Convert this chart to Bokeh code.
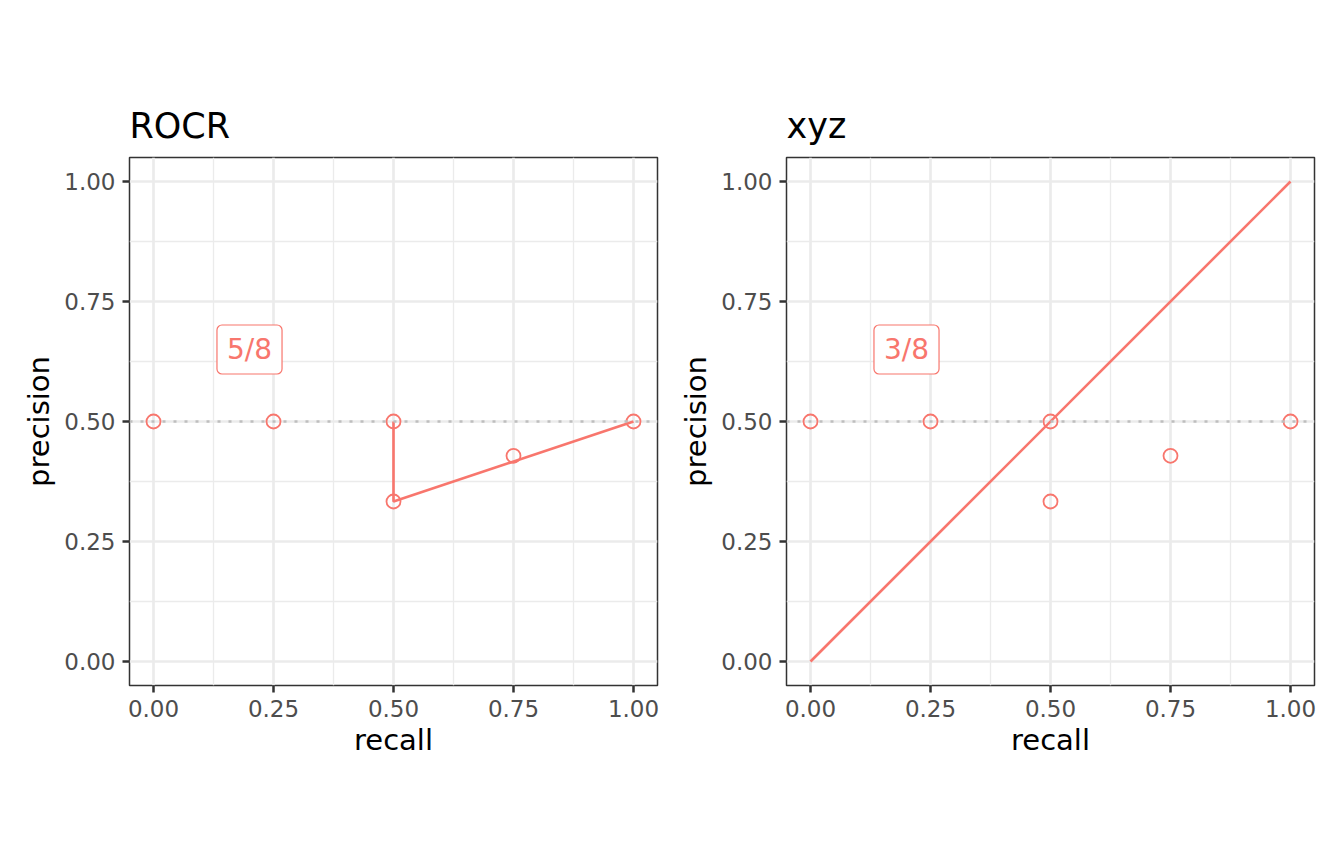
from bokeh.plotting import figure
from bokeh.models import FixedTicker, Range1d, Label, Span, Title
from bokeh.layouts import row
from bokeh.embed import file_html
from bokeh.resources import INLINE

# ---- data ----
panel_titles = ["ROCR", "xyz"]
point_recall = [0.0, 0.25, 0.5, 0.5, 0.75, 1.0]
point_precision = [0.5, 0.5, 0.5, 1/3, 3/7, 0.5]
rocr_line_recall = [0.5, 0.5, 1.0]
rocr_line_precision = [0.5, 1/3, 0.5]
xyz_line_recall = [0.0, 1.0]
xyz_line_precision = [0.0, 1.0]
label_text = ["5/8", "3/8"]
label_recall = [0.2, 0.2]
label_precision = [0.65, 0.65]
baseline_precision = 0.5
major_ticks = [0.0, 0.25, 0.5, 0.75, 1.0]
minor_ticks = [0.125, 0.375, 0.625, 0.875]
tick_labels = ["0.00", "0.25", "0.50", "0.75", "1.00"]

RED = "#F8766D"
FONT = "DejaVu Sans"


def make_panel(title, line_x, line_y, lab_txt, lab_x, lab_y, width, left, right):
    p = figure(width=width, height=857, output_backend="svg", toolbar_location=None,
               x_range=Range1d(-0.05, 1.05), y_range=Range1d(-0.05, 1.05),
               min_border_left=left, min_border_right=right,
               min_border_top=157, min_border_bottom=172)
    p.title = Title(text=title, text_font=FONT, text_font_size="35px",
                    text_font_style="normal", text_color="black", align="left",
                    standoff=23)
    p.background_fill_color = "white"
    p.border_fill_color = "white"
    p.outline_line_color = "#333333"
    p.outline_line_width = 1.5

    for ax, lab in ((p.xaxis, "recall"), (p.yaxis, "precision")):
        ax.ticker = FixedTicker(ticks=major_ticks, minor_ticks=minor_ticks)
        ax.major_label_overrides = {t: s for t, s in zip(major_ticks, tick_labels)}
        ax.axis_label = lab
        ax.axis_label_text_font = FONT
        ax.axis_label_text_font_size = "29px"
        ax.axis_label_text_font_style = "normal"
        ax.axis_label_text_color = "black"
        ax.major_label_text_font = FONT
        ax.major_label_text_font_size = "23px"
        ax.major_label_text_color = "#4D4D4D"
        ax.axis_line_color = None
        ax.major_tick_line_color = "#333333"
        ax.major_tick_line_width = 2.5
        ax.major_tick_out = 7
        ax.major_tick_in = 0
        ax.minor_tick_line_color = None
        ax.major_label_standoff = 7
    p.xaxis.axis_label_standoff = 3
    p.yaxis.axis_label_standoff = 5

    for g in (p.xgrid, p.ygrid):
        g.ticker = FixedTicker(ticks=major_ticks, minor_ticks=minor_ticks)
        g.grid_line_color = "#EBEBEB"
        g.grid_line_width = 2.7
        g.minor_grid_line_color = "#EBEBEB"
        g.minor_grid_line_width = 1.3

    p.add_layout(Span(location=baseline_precision, dimension="width",
                      line_color="#BEBEBE", line_width=2.7, line_dash="3 8",
                      level="glyph"))
    p.line(line_x, line_y, line_color=RED, line_width=2.6)
    p.scatter(point_recall, point_precision, marker="circle", size=14,
              fill_color=None, line_color=RED, line_width=1.8)
    p.add_layout(Label(x=lab_x, y=lab_y, text=lab_txt, text_align="center",
                       text_baseline="middle", text_font=FONT,
                       text_font_size="28px", text_color=RED,
                       background_fill_color="white",
                       border_line_color=RED, border_line_width=1.2,
                       border_radius=5,
                       padding=dict(left=10, right=10, top=8, bottom=8)))
    return p


p1 = make_panel(panel_titles[0], rocr_line_recall, rocr_line_precision,
                label_text[0], label_recall[0], label_precision[0], 672, 129, 15)
p2 = make_panel(panel_titles[1], xyz_line_recall, xyz_line_precision,
                label_text[1], label_recall[1], label_precision[1], 664, 114, 22)

layout = row(p1, p2)
open("out.html", "w").write(file_html(layout, INLINE))
